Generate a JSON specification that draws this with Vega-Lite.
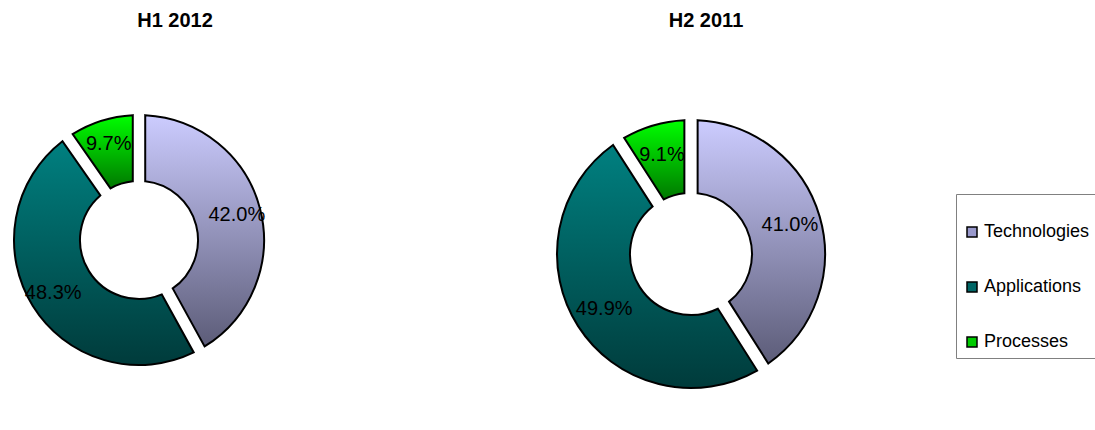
{
  "$schema": "https://vega.github.io/schema/vega-lite/v6.json",
  "padding": {"top": 11, "left": 0, "right": 0, "bottom": 0},
  "background": "white",
  "config": {
    "view": {"stroke": null},
    "font": "Liberation Sans",
    "title": {"fontSize": 20, "font": "Liberation Sans", "fontWeight": "bold", "color": "#000000", "offset": 14},
    "legend": {"labelFont": "Liberation Sans", "labelFontSize": 18, "labelColor": "#000000"}
  },
  "datasets": {
    "shares": [
      {"period": "H1 2012", "category": "Technologies", "idx": 1, "share": 42.0, "label": "42.0%"},
      {"period": "H1 2012", "category": "Applications", "idx": 2, "share": 48.3, "label": "48.3%"},
      {"period": "H1 2012", "category": "Processes", "idx": 3, "share": 9.7, "label": "9.7%"},
      {"period": "H2 2011", "category": "Technologies", "idx": 1, "share": 41.0, "label": "41.0%"},
      {"period": "H2 2011", "category": "Applications", "idx": 2, "share": 49.9, "label": "49.9%"},
      {"period": "H2 2011", "category": "Processes", "idx": 3, "share": 9.1, "label": "9.1%"}
    ]
  },
  "spacing": 274,
  "hconcat": [
    {
      "title": {"text": "H1 2012", "dx": 36},
      "width": 278,
      "height": 390,
      "data": {"name": "shares"},
      "transform": [{"filter": "datum.period === 'H1 2012'"}],
      "encoding": {
        "theta": {"field": "share", "type": "quantitative", "stack": true},
        "order": {"field": "idx", "type": "quantitative"}
      },
      "layer": [
        {
          "mark": {"type": "arc", "innerRadius": 59, "outerRadius": 125, "opacity": 0},
          "encoding": {
            "color": {
              "field": "category", "type": "nominal",
              "scale": {
                "domain": ["Technologies", "Applications", "Processes"],
                "range": ["#9999CC", "#006666", "#00CC00"]
              },
              "legend": {
                "title": " ",
                "titleFontSize": 18,
                "titlePadding": 4,
                "orient": "none",
                "legendX": 956,
                "legendY": 149,
                "padding": 7,
                "rowPadding": 37,
                "symbolType": "square",
                "symbolSize": 100,
                "symbolStrokeColor": "#000000",
                "symbolStrokeWidth": 1.5,
                "labelOffset": 3,
                "fillColor": "#FFFFFF",
                "strokeColor": "#808080",
                "encode": {"legend": {"update": {"height": {"value": 260}}}}
              }
            }
          }
        },
        {
          "mark": {"type": "arc", "innerRadius": 59, "outerRadius": 125, "padAngle": 0.09, "stroke": "#000000", "strokeWidth": 2},
          "encoding": {
            "fill": {
              "condition": [
                {"test": "datum.category === 'Technologies'", "value": {"gradient": "linear", "x1": 0, "y1": 0, "x2": 0, "y2": 1, "stops": [{"offset": 0, "color": "#CCCCFF"}, {"offset": 1, "color": "#5C5C78"}]}},
                {"test": "datum.category === 'Applications'", "value": {"gradient": "linear", "x1": 0, "y1": 0, "x2": 0, "y2": 1, "stops": [{"offset": 0, "color": "#008080"}, {"offset": 1, "color": "#003B3B"}]}}
              ],
              "value": {"gradient": "linear", "x1": 0, "y1": 0, "x2": 0, "y2": 1, "stops": [{"offset": 0, "color": "#00FF00"}, {"offset": 1, "color": "#007800"}]}
            }
          }
        },
        {
          "mark": {"type": "text", "radius": 101, "fontSize": 20, "font": "Liberation Sans", "color": "#000000"},
          "encoding": {"text": {"field": "label", "type": "nominal"}}
        }
      ]
    },
    {
      "title": {"text": "H2 2011", "dx": 15},
      "width": 278,
      "height": 418,
      "data": {"name": "shares"},
      "transform": [{"filter": "datum.period === 'H2 2011'"}],
      "encoding": {
        "theta": {"field": "share", "type": "quantitative", "stack": true},
        "order": {"field": "idx", "type": "quantitative"}
      },
      "layer": [
        {
          "mark": {"type": "arc", "innerRadius": 61, "outerRadius": 134, "padAngle": 0.09, "stroke": "#000000", "strokeWidth": 2},
          "encoding": {
            "fill": {
              "condition": [
                {"test": "datum.category === 'Technologies'", "value": {"gradient": "linear", "x1": 0, "y1": 0, "x2": 0, "y2": 1, "stops": [{"offset": 0, "color": "#CCCCFF"}, {"offset": 1, "color": "#5C5C78"}]}},
                {"test": "datum.category === 'Applications'", "value": {"gradient": "linear", "x1": 0, "y1": 0, "x2": 0, "y2": 1, "stops": [{"offset": 0, "color": "#008080"}, {"offset": 1, "color": "#003B3B"}]}}
              ],
              "value": {"gradient": "linear", "x1": 0, "y1": 0, "x2": 0, "y2": 1, "stops": [{"offset": 0, "color": "#00FF00"}, {"offset": 1, "color": "#007800"}]}
            }
          }
        },
        {
          "mark": {"type": "text", "radius": 103, "fontSize": 20, "font": "Liberation Sans", "color": "#000000"},
          "encoding": {"text": {"field": "label", "type": "nominal"}}
        }
      ]
    }
  ]
}
